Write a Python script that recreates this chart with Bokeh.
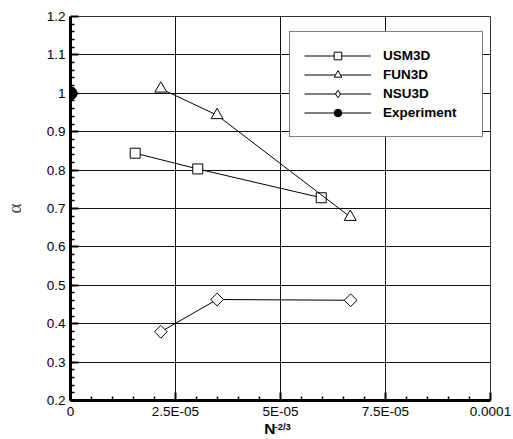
import math
from bokeh.plotting import figure
from bokeh.models import (Range1d, FixedTicker, Legend, LegendItem, Label)
from bokeh.embed import file_html
from bokeh.resources import INLINE

# ---- data ----
usm_x = [1.54e-5, 3.03e-5, 5.97e-5]
usm_y = [0.844, 0.803, 0.728]
fun_x = [2.15e-5, 3.49e-5, 6.66e-5]
fun_y = [1.012, 0.943, 0.678]
nsu_x = [2.15e-5, 3.49e-5, 6.67e-5]
nsu_y = [0.379, 0.463, 0.461]
exp_x = [0.0]
exp_y = [1.0]

x_ticks = [0.0, 2.5e-5, 5e-5, 7.5e-5, 1e-4]
x_tick_labels = ["0", "2.5E-05", "5E-05", "7.5E-05", "0.0001"]
x_minor = [0.5e-5, 1.0e-5, 1.5e-5, 2.0e-5, 3.0e-5, 3.5e-5, 4.0e-5, 4.5e-5,
           5.5e-5, 6.0e-5, 6.5e-5, 7.0e-5, 8.0e-5, 8.5e-5, 9.0e-5, 9.5e-5]
y_ticks = [0.2, 0.3, 0.4, 0.5, 0.6, 0.7, 0.8, 0.9, 1.0, 1.1, 1.2]
y_tick_labels = ["0.2", "0.3", "0.4", "0.5", "0.6", "0.7", "0.8", "0.9", "1", "1.1", "1.2"]
y_minor = [0.22, 0.24, 0.26, 0.28, 0.32, 0.34, 0.36, 0.38, 0.42, 0.44, 0.46, 0.48,
           0.52, 0.54, 0.56, 0.58, 0.62, 0.64, 0.66, 0.68, 0.72, 0.74, 0.76, 0.78,
           0.82, 0.84, 0.86, 0.88, 0.92, 0.94, 0.96, 0.98, 1.02, 1.04, 1.06, 1.08,
           1.12, 1.14, 1.16, 1.18]

FONT = "Liberation Sans"

p = figure(width=513, height=439, output_backend="svg", toolbar_location=None,
           x_range=Range1d(0, 1e-4), y_range=Range1d(0.2, 1.2),
           min_border_left=69, min_border_right=23, min_border_top=16,
           min_border_bottom=39)
p.background_fill_color = "white"
p.border_fill_color = "white"
p.outline_line_color = "#333333"
p.outline_line_width = 1

# grid
p.xgrid.ticker = FixedTicker(ticks=x_ticks)
p.ygrid.ticker = FixedTicker(ticks=y_ticks)
for g in (p.xgrid[0], p.ygrid[0]):
    g.grid_line_color = "#111111"
    g.grid_line_width = 1
    g.grid_line_alpha = 1.0

# axes
xa = p.xaxis[0]
ya = p.yaxis[0]
xa.ticker = FixedTicker(ticks=x_ticks, minor_ticks=x_minor)
ya.ticker = FixedTicker(ticks=y_ticks, minor_ticks=y_minor)
xa.major_label_overrides = {t: s for t, s in zip(x_ticks, x_tick_labels)}
ya.major_label_overrides = {t: s for t, s in zip(y_ticks, y_tick_labels)}
for ax in (xa, ya):
    ax.axis_line_width = 3
    ax.axis_line_color = "black"
    ax.major_tick_in = 8
    ax.major_tick_out = 0
    ax.minor_tick_in = 4
    ax.minor_tick_out = 0
    ax.major_tick_line_width = 2
    ax.minor_tick_line_width = 1.5
    ax.major_tick_line_color = "black"
    ax.minor_tick_line_color = "black"
    ax.major_label_text_font = FONT
    ax.major_label_text_font_size = "13.5px"
    ax.major_label_text_color = "black"
    ax.major_label_standoff = 5
xa.major_label_standoff = 3
ya.axis_label = "α"
ya.axis_label_text_font = "Liberation Serif"
ya.axis_label_text_font_style = "normal"
ya.axis_label_text_font_size = "19px"
ya.axis_label_standoff = 19

# x-axis title: "N" (the trailing no-break spaces leave room for the exponent)
xa.axis_label = "N" + "\u00a0" * 5
xa.axis_label_text_font = FONT
xa.axis_label_text_font_style = "bold"
xa.axis_label_text_font_size = "15.5px"
xa.axis_label_text_color = "black"
xa.axis_label_standoff = -2

# series
r_usm_l = p.line(usm_x, usm_y, line_color="black", line_width=1)
r_usm_m = p.scatter(usm_x, usm_y, marker="square", size=10, fill_color="white",
                    line_color="black", line_width=1)
r_fun_l = p.line(fun_x, fun_y, line_color="black", line_width=1)
r_fun_m = p.scatter(fun_x, fun_y, marker="triangle", size=12, fill_color="white",
                    line_color="black", line_width=1)
r_nsu_l = p.line(nsu_x, nsu_y, line_color="black", line_width=1)
r_nsu_leg = p.scatter(nsu_x, nsu_y, marker="diamond", size=9, fill_color="white",
                      line_color="black", line_width=1)
r_nsu_m = p.scatter(nsu_x, nsu_y, marker="square", angle=math.pi / 4, size=9,
                    fill_color="white", line_color="black", line_width=1)
r_exp_m = p.scatter(exp_x, exp_y, marker="circle", size=13, fill_color="black",
                    line_color="black")
r_exp_l = p.line(exp_x, exp_y, line_color="black", line_width=1)

legend = Legend(items=[
    LegendItem(label="USM3D", renderers=[r_usm_l, r_usm_m]),
    LegendItem(label="FUN3D", renderers=[r_fun_l, r_fun_m]),
    LegendItem(label="NSU3D", renderers=[r_nsu_l, r_nsu_leg]),
    LegendItem(label="Experiment", renderers=[r_exp_l, r_exp_m]),
], location=(219, 263))
legend.glyph_width = 67
legend.glyph_height = 19
legend.spacing = 0
legend.label_standoff = 12
legend.label_width = 85
legend.padding = 14
legend.margin = 0
legend.label_text_font = FONT
legend.label_text_font_style = "bold"
legend.label_text_font_size = "13.5px"
legend.label_text_color = "black"
legend.border_line_color = "black"
legend.border_line_width = 1
legend.background_fill_color = "white"
legend.background_fill_alpha = 1.0
p.add_layout(legend, "center")

# exponent of the x-axis title, kept in the (narrow) right panel so it is not clipped
p.add_layout(Label(x=274, y=420, x_units="canvas", y_units="canvas", text="-2/3",
                   text_font=FONT, text_font_style="bold", text_font_size="9.5px",
                   text_color="black", text_baseline="top"), "right")

open("out.html", "w").write(file_html(p, INLINE))
